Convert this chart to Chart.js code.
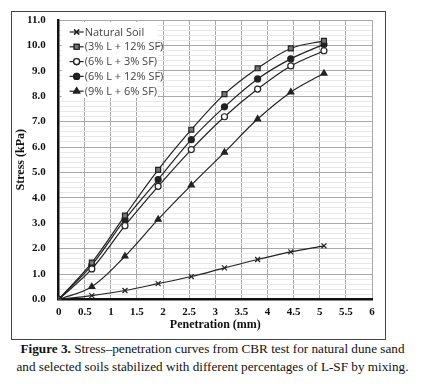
<!DOCTYPE html>
<html>
<head>
<meta charset="utf-8">
<script src="https://cdn.jsdelivr.net/npm/chart.js@4/dist/chart.umd.min.js"></script>
<style>
  body { margin: 0; background: #fff; }
  #wrap { position: relative; width: 425px; height: 384px; }
  #box { position: absolute; left: 11px; top: 11px; width: 373px; height: 327px; border: 1px solid #444; }
  #c { position: absolute; left: 0; top: 0; }
  #cap { position: absolute; left: 0; top: 340px; width: 425px; text-align: center;
         font: 13.2px "Liberation Serif", serif; line-height: 18px; color: #111; }
</style>
</head>
<body>
<div id="wrap">
  <div id="box"></div>
  <canvas id="c" width="425" height="340"></canvas>
  <div id="cap"><b>Figure 3.</b> Stress–penetration curves from CBR test for natural dune sand<br>and selected soils stabilized with different percentages of L-SF by mixing.</div>
</div>
<script>
// penetration (mm)
const penetration = [0, 0.635, 1.27, 1.905, 2.54, 3.175, 3.81, 4.445, 5.08];
// stress (kPa)
const naturalSoil = [0, 0.15, 0.35, 0.62, 0.9, 1.24, 1.57, 1.87, 2.11];
const l3sf12 = [0, 1.45, 3.3, 5.1, 6.68, 8.08, 9.1, 9.88, 10.18];
const l6sf3 = [0, 1.2, 2.9, 4.45, 5.9, 7.19, 8.28, 9.19, 9.79];
const l6sf12 = [0, 1.35, 3.15, 4.72, 6.29, 7.58, 8.68, 9.47, 10.04];
const l9sf6 = [0, 0.5, 1.7, 3.15, 4.5, 5.79, 7.1, 8.16, 8.9];

const seriesNames = ['Natural Soil', '(3% L + 12% SF)', '(6% L + 3% SF)', '(6% L + 12% SF)', '(9% L + 6% SF)'];
const seriesValues = [naturalSoil, l3sf12, l6sf3, l6sf12, l9sf6];
const markers = [
  {style: 'crossRot', fill: '#222', r: 3.5},
  {style: 'rect', fill: '#777', r: 3.5},
  {style: 'circle', fill: '#fff', r: 3},
  {style: 'circle', fill: '#222', r: 3},
  {style: 'triangle', fill: '#222', r: 3.5}
];

const datasets = seriesValues.map((vals, i) => ({
  label: seriesNames[i],
  data: vals.map((v, j) => ({x: penetration[j], y: v})),
  borderColor: '#222',
  borderWidth: 1.2,
  tension: 0.35,
  pointStyle: markers[i].style,
  pointRadius: markers[i].r,
  pointBackgroundColor: markers[i].fill,
  pointBorderColor: '#222',
  pointBorderWidth: 1.2
}));

const isMajor = v => Math.abs(v - Math.round(v)) < 1e-6;
const serif = '"Liberation Serif", serif';

// legend drawn inside the plot, top-left
const insideLegend = {
  id: 'insideLegend',
  afterDatasetsDraw(chart) {
    const ctx = chart.ctx;
    const a = chart.chartArea;
    ctx.save();
    ctx.fillStyle = '#fff';
    ctx.fillRect(a.left + 3, a.top + 2, 96, 76);
    ctx.font = '11px "Liberation Sans Narrow", "Open Sans", sans-serif';
    ctx.textBaseline = 'middle';
    chart.data.datasets.forEach((ds, i) => {
      const y = a.top + 12 + i * 14.8;
      const x0 = a.left + 11;
      ctx.strokeStyle = '#222';
      ctx.lineWidth = 1.2;
      ctx.beginPath();
      ctx.moveTo(x0, y);
      ctx.lineTo(x0 + 14, y);
      ctx.stroke();
      ctx.fillStyle = ds.pointBackgroundColor;
      Chart.helpers.drawPoint(ctx, {pointStyle: ds.pointStyle, radius: ds.pointRadius, borderWidth: 1.2, rotation: 0}, x0 + 7, y);
      ctx.fill();
      ctx.stroke();
      ctx.fillStyle = '#444';
      ctx.fillText(ds.label, x0 + 15, y + 0.5);
    });
    ctx.restore();
  }
};

new Chart(document.getElementById('c'), {
  type: 'line',
  data: {datasets: datasets},
  options: {
    responsive: false,
    animation: false,
    layout: {padding: {left: 10, right: 53, top: 20, bottom: 4}},
    plugins: {legend: {display: false}, tooltip: {enabled: false}},
    scales: {
      x: {
        type: 'linear',
        min: 0, max: 6,
        ticks: {
          stepSize: 0.5,
          color: '#111',
          font: {family: serif, size: 11, weight: 'bold'},
          padding: 6,
          callback: v => String(v)
        },
        grid: {color: '#a8a8a8', lineWidth: 1, drawTicks: false},
        border: {color: '#111', width: 2.5},
        title: {display: true, text: 'Penetration (mm)', color: '#111',
                font: {family: serif, size: 12, weight: 'bold'}, padding: {top: -7}}
      },
      y: {
        min: 0, max: 11,
        ticks: {
          stepSize: 0.2,
          autoSkip: false,
          color: '#111',
          font: {family: serif, size: 11, weight: 'bold'},
          padding: 13,
          callback: v => isMajor(v) ? Math.round(v).toFixed(1) : ''
        },
        grid: {
          color: c => isMajor(c.tick.value) ? '#a8a8a8' : '#e8e8e8',
          lineWidth: 1,
          drawTicks: false
        },
        border: {color: '#111', width: 2.5},
        title: {display: true, text: 'Stress (kPa)', color: '#111',
                font: {family: serif, size: 12, weight: 'bold'}, padding: {bottom: -15}}
      }
    }
  },
  plugins: [insideLegend]
});
</script>
</body>
</html>
